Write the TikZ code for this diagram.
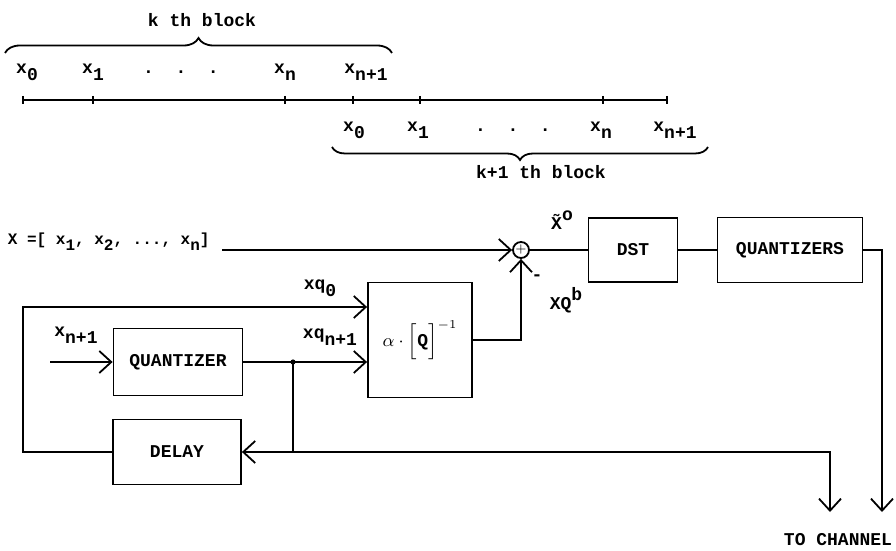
\documentclass[tikz,border=0pt]{standalone}
\usepackage{fontspec}
\setmonofont{Liberation Mono}
\usepackage{tikz}
\usetikzlibrary{arrows.meta,positioning,decorations.pathreplacing,calc}
\newcommand{\dn}[1]{\raisebox{-0.75ex}{#1}}
\newcommand{\up}[1]{\raisebox{0.9ex}{#1}}

\begin{document}
\begin{tikzpicture}[
  x=0.5pt, y=-0.5pt,
  font=\ttfamily\bfseries\fontsize{9}{10}\selectfont,
  line width=0.9pt,
  blk/.style={draw, rectangle, align=center, inner sep=2pt},
  lbl/.style={inner sep=1pt},
  sumc/.style={draw, circle, minimum size=8pt, inner sep=0pt, font=\fontsize{6}{6}\selectfont},
  brc/.style={decorate, decoration={brace, amplitude=#1}},
  >={Straight Barb[length=6pt,width=11pt]}
]
\useasboundingbox (0,0) rectangle (896,551);

% sample blocks
\node[lbl] (kb) at (202,20) {k th block};
\draw[brc=7.5pt] (5,53) -- (392,53);
\foreach \px/\txt/\nm in {27/{x\dn{0}}/ta, 93/{x\dn{1}}/tb, 181/{.\ \ .\ \ .}/tc, 285/{x\dn{n}}/td, 366/{x\dn{n+1}}/te}
  \node[lbl] (\nm) at (\px,72) {\txt};
\draw (23,100) -- (667,100);
\foreach \t in {23,93,285,353,420,603,667}
  \draw (\t,96) -- (\t,104);
\foreach \px/\txt/\nm in {354/{x\dn{0}}/ba, 418/{x\dn{1}}/bb, 513/{.\ \ .\ \ .}/bc, 601/{x\dn{n}}/bd, 675/{x\dn{n+1}}/be}
  \node[lbl] (\nm) at (\px,130) {\txt};
\draw[brc=6.5pt] (708,147) -- (332,147);
\node[lbl] (k1b) at (541,172) {k+1 th block};

% coder
\node[lbl, anchor=west, font=\ttfamily\bfseries\fontsize{8}{9}\selectfont] (xin) at (5,242) {X =[ x\dn{1}, x\dn{2}, ..., x\dn{n}]};
\node[sumc] (sum) at (521,250) {+};
\node[blk, minimum width=44.5pt, minimum height=32pt] (dst) at (633,250) {DST};
\node[blk, minimum width=72.5pt, minimum height=32.5pt] (qzs) at (790,250) {QUANTIZERS};
\node[blk, minimum width=52pt, minimum height=57.5pt] (alf) at (420,340) {$\alpha\cdot\Big[\mbox{Q}\Big]^{-1}$};
\node[blk, minimum width=64.5pt, minimum height=33.5pt] (qtz) at (178,362) {QUANTIZER};
\node[blk, minimum width=64pt, minimum height=32.5pt] (dly) at (177,452) {DELAY};

\node[lbl] (xt) at (562,220) {\~{X}\up{o}};
\node[lbl] (mn) at (537,278) {-};
\node[lbl] (xqb) at (566,300) {XQ\up{b}};
\node[lbl] (xq0) at (320,288) {xq\dn{0}};
\node[lbl] (xqn) at (330,337) {xq\dn{n+1}};
\node[lbl] (xn1) at (76,335) {x\dn{n+1}};
\node[lbl] (chl) at (838,540) {TO CHANNEL};

\coordinate (xs) at ($(xin.east)+(10,0)$);
\coordinate (xs1) at (50,362);
\coordinate (jn) at (293,362);
\coordinate (jd) at (293,452);
\coordinate (fb) at (23,307);
\coordinate (ch1) at (830,512);
\coordinate (ch2) at (882,512);

\draw[->] (xs |- sum) -- (sum.west);
\draw (sum) -- (dst);
\draw (dst) -- (qzs);
\draw[->] (qzs.east) -| (ch2);
\draw[->] (alf.east) -| (sum.south);
\draw[->] (xs1) -- (qtz.west);
\draw (qtz.east) -- (jn);
\draw[->] (jn) -- (jn -| alf.west);
\fill (jn) circle (1.3pt);
\draw (jn) -- (jd);
\draw[->] (jd) -- (dly.east);
\draw[->] (jd) -| (ch1);
\draw[->] (dly.west) -| (fb) -- (fb -| alf.west);
\end{tikzpicture}
\end{document}
